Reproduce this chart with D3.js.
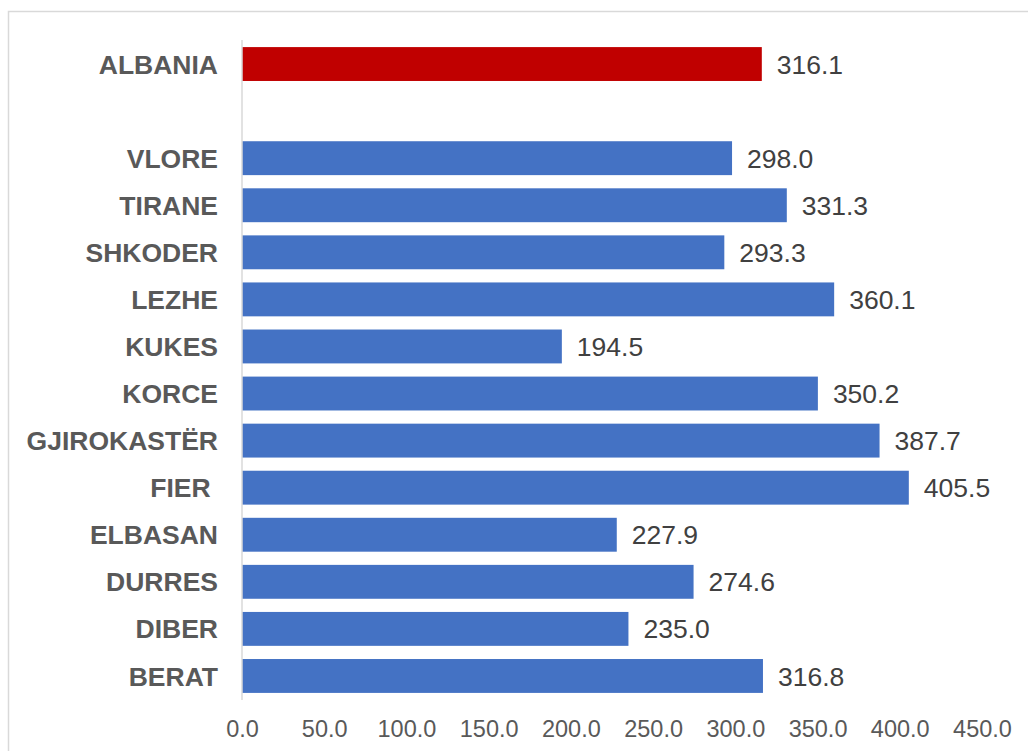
<!DOCTYPE html>
<html><head><meta charset="utf-8">
<script src="https://cdn.jsdelivr.net/npm/d3@7"></script>
<style>body{margin:0;background:#fff}svg{display:block}text{font-family:"Liberation Sans",Arial,sans-serif}</style>
</head><body><svg id="c" width="1028" height="751"></svg>
<script>
const categories = ["ALBANIA", "", "VLORE", "TIRANE", "SHKODER", "LEZHE", "KUKES", "KORCE", "GJIROKASTËR", "FIER ", "ELBASAN", "DURRES", "DIBER", "BERAT"];
const values = [316.1, null, 298.0, 331.3, 293.3, 360.1, 194.5, 350.2, 387.7, 405.5, 227.9, 274.6, 235.0, 316.8];
const highlight = ["ALBANIA"];
const xTicks = [0, 50, 100, 150, 200, 250, 300, 350, 400, 450];

const svg = d3.select("#c");
svg.append("rect").attr("x", 8.5).attr("y", 11.5).attr("width", 1030).attr("height", 760)
  .attr("fill", "#fff").attr("stroke", "#d9d9d9").attr("stroke-width", 1.5);

const x = d3.scaleLinear().domain([0, 450]).range([242, 982]);
const y = d3.scaleBand().domain(categories.map((c, i) => i)).range([40.5, 699.5]).paddingInner(0.28).paddingOuter(0.14);

const data = categories.map((c, i) => ({c, v: values[i], i}));

svg.selectAll("rect.bar").data(data.filter(d => d.v != null)).join("rect")
  .attr("class", "bar")
  .attr("x", x(0)).attr("y", d => y(d.i))
  .attr("width", d => x(d.v) - x(0)).attr("height", y.bandwidth())
  .attr("fill", d => highlight.includes(d.c) ? "#C00000" : "#4472C4");

// axis line
svg.append("line").attr("x1", x(0)).attr("x2", x(0)).attr("y1", 40).attr("y2", 700)
  .attr("stroke", "#d9d9d9").attr("stroke-width", 1.5);

// category labels
svg.selectAll("text.cat").data(data).join("text")
  .attr("class", "cat").attr("xml:space", "preserve").style("white-space", "pre")
  .attr("x", 218).attr("y", d => y(d.i) + y.bandwidth() / 2).attr("dy", "0.36em")
  .attr("text-anchor", "end").attr("font-size", 26.5).attr("font-weight", "bold").attr("fill", "#595959")
  .text(d => d.c);

// value labels
svg.selectAll("text.val").data(data.filter(d => d.v != null)).join("text")
  .attr("class", "val")
  .attr("x", d => x(d.v) + 15).attr("y", d => y(d.i) + y.bandwidth() / 2).attr("dy", "0.36em")
  .attr("font-size", 26.5).attr("fill", "#404040")
  .text(d => d3.format(".1f")(d.v));

// x axis tick labels
const ax = svg.append("g").attr("transform", "translate(0,700)")
  .call(d3.axisBottom(x).tickValues(xTicks).tickFormat(d3.format(".1f")).tickSize(0).tickPadding(0));
ax.select(".domain").remove();
ax.selectAll("text").attr("y", 37).attr("dy", 0).attr("font-size", 23.5).attr("fill", "#595959")
  .attr("font-family", "Liberation Sans, Arial, sans-serif");
</script></body></html>
